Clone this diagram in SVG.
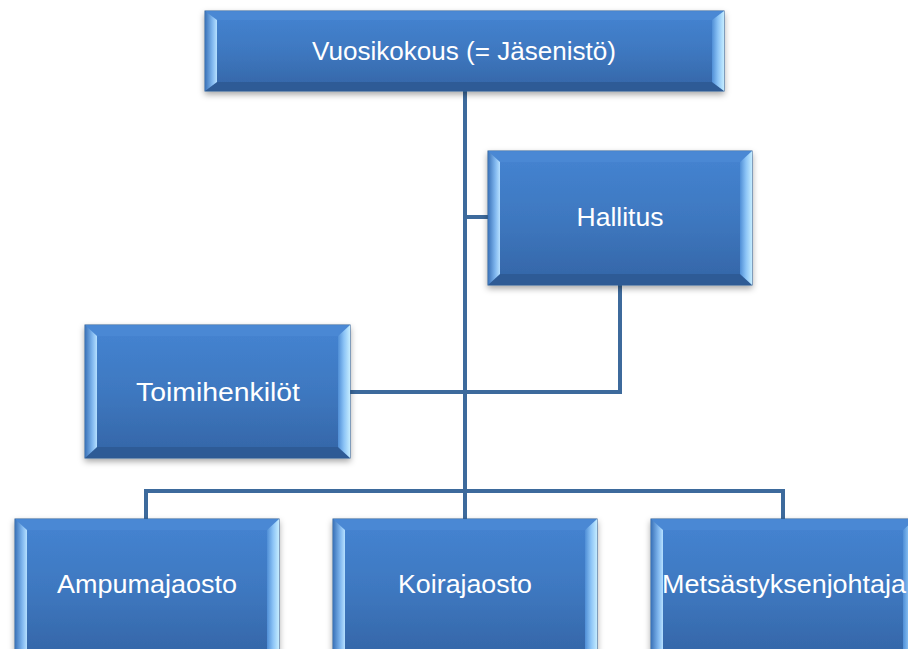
<svg xmlns="http://www.w3.org/2000/svg" width="908" height="649" viewBox="0 0 908 649">
<defs>
<linearGradient id="gMain" x1="0" y1="0" x2="0" y2="1">
<stop offset="0" stop-color="#4584d2"/>
<stop offset="0.5" stop-color="#3e78c0"/>
<stop offset="1" stop-color="#3465a6"/>
</linearGradient>
<linearGradient id="gLeft" x1="0" y1="0" x2="1" y2="0">
<stop offset="0" stop-color="#3a72b8"/>
<stop offset="0.6" stop-color="#7fb6ee"/>
<stop offset="1" stop-color="#b6e0ff"/>
</linearGradient>
<linearGradient id="gRight" x1="0" y1="0" x2="1" y2="0">
<stop offset="0" stop-color="#4f8ed6"/>
<stop offset="0.5" stop-color="#8cc4f6"/>
<stop offset="1" stop-color="#c4ecff"/>
</linearGradient>
<filter id="sh" x="-10%" y="-10%" width="120%" height="130%">
<feDropShadow dx="0" dy="3" stdDeviation="3" flood-color="#000" flood-opacity="0.35"/>
</filter>
<style>
.box{fill:url(#gMain);stroke:#2f5c94;stroke-width:1;filter:url(#sh)}
.ft{fill:#4a88d4;opacity:0.9}
.fb{fill:#2d5a93;opacity:0.9}
.fl{fill:url(#gLeft)}
.fr{fill:url(#gRight)}
.lbl{font-family:"Liberation Sans",Arial,sans-serif;font-size:25px;fill:#ffffff;text-anchor:middle}
.con{fill:none;stroke:#3d6a9c;stroke-width:4;stroke-linejoin:miter}
</style>
</defs>
<rect width="908" height="649" fill="#ffffff"/>
<g id="connectors">
<path class="con" d="M465,91 V519"/>
<path class="con" d="M465,217 H488"/>
<path class="con" d="M620,285 V392 H350"/>
<path class="con" d="M146,519 V491 H783 V519"/>
</g>
<g id="node-vuosikokous">
<rect class="box" x="205" y="11" width="519" height="80"/>
<polygon class="ft" points="205,11 724,11 712,20 217,20"/>
<polygon class="fb" points="205,91 724,91 712,82 217,82"/>
<polygon class="fl" points="205,11 217,20 217,82 205,91"/>
<polygon class="fr" points="724,11 712,20 712,82 724,91"/>
<text class="lbl" x="464" y="60" textLength="304" lengthAdjust="spacingAndGlyphs">Vuosikokous (= Jäsenistö)</text>
</g>
<g id="node-hallitus">
<rect class="box" x="488" y="151" width="264" height="134"/>
<polygon class="ft" points="488,151 752,151 740,162 500,162"/>
<polygon class="fb" points="488,285 752,285 740,274 500,274"/>
<polygon class="fl" points="488,151 500,162 500,274 488,285"/>
<polygon class="fr" points="752,151 740,162 740,274 752,285"/>
<text class="lbl" x="620" y="226" textLength="87" lengthAdjust="spacingAndGlyphs">Hallitus</text>
</g>
<g id="node-toimihenkilot">
<rect class="box" x="85" y="325" width="265" height="133"/>
<polygon class="ft" points="85,325 350,325 338,336 97,336"/>
<polygon class="fb" points="85,458 350,458 338,447 97,447"/>
<polygon class="fl" points="85,325 97,336 97,447 85,458"/>
<polygon class="fr" points="350,325 338,336 338,447 350,458"/>
<text class="lbl" x="218" y="401" textLength="164" lengthAdjust="spacingAndGlyphs">Toimihenkilöt</text>
</g>
<g id="node-ampumajaosto">
<rect class="box" x="15" y="519" width="264" height="140"/>
<polygon class="ft" points="15,519 279,519 267,530 27,530"/>
<polygon class="fl" points="15,519 27,530 27,659 15,659"/>
<polygon class="fr" points="279,519 267,530 267,659 279,659"/>
<text class="lbl" x="147" y="593" textLength="180" lengthAdjust="spacingAndGlyphs">Ampumajaosto</text>
</g>
<g id="node-koirajaosto">
<rect class="box" x="333" y="519" width="264" height="140"/>
<polygon class="ft" points="333,519 597,519 585,530 345,530"/>
<polygon class="fl" points="333,519 345,530 345,659 333,659"/>
<polygon class="fr" points="597,519 585,530 585,659 597,659"/>
<text class="lbl" x="465" y="593" textLength="134" lengthAdjust="spacingAndGlyphs">Koirajaosto</text>
</g>
<g id="node-metsastyksenjohtaja">
<rect class="box" x="651" y="519" width="264" height="140"/>
<polygon class="ft" points="651,519 915,519 903,530 663,530"/>
<polygon class="fl" points="651,519 663,530 663,659 651,659"/>
<polygon class="fr" points="915,519 903,530 903,659 915,659"/>
<text class="lbl" x="784" y="593" textLength="244" lengthAdjust="spacingAndGlyphs">Metsästyksenjohtaja</text>
</g>
</svg>
